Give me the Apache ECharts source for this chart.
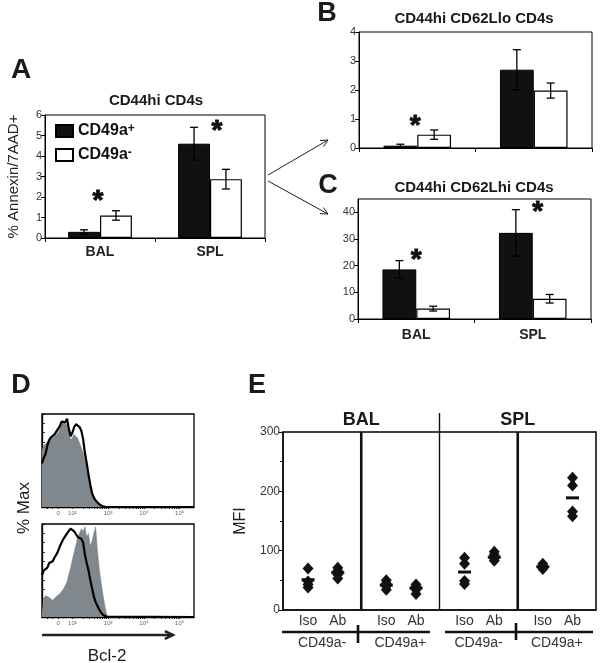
<!DOCTYPE html>
<html><head><meta charset="utf-8">
<script src="https://cdn.jsdelivr.net/npm/echarts@6/dist/echarts.min.js"></script>
<style>html,body{margin:0;padding:0;background:#fff}#c{width:604px;height:663px}</style>
</head><body><div id="c"></div>
<script>
// ---------------- DATA ----------------
const tissues = ['BAL', 'SPL'];
const legendNames = ['CD49a+', 'CD49a-'];
// Panel A: CD44hi CD4s (% Annexin/7AAD+)
const aPos = [0.3, 4.6];
const aPosErr = [0.1, 0.8];
const aNeg = [1.1, 2.87];
const aNegErr = [0.23, 0.48];
const aStars = [[0, 1.8], [1, 5.2]];
// Panel B: CD44hi CD62Llo CD4s
const bPos = [0.08, 2.7];
const bPosErr = [0.05, 0.69];
const bNeg = [0.46, 1.98];
const bNegErr = [0.16, 0.26];
const bStars = [[0, 0.75]];
// Panel C: CD44hi CD62Lhi CD4s
const cPos = [18.6, 32.3];
const cPosErr = [3.3, 8.7];
const cNeg = [3.9, 7.6];
const cNegErr = [0.9, 1.6];
const cStars = [[0, 22], [1, 40]];
// Panel D: Bcl-2 histograms (x in log decades, y in % of max)
const bcl2Bins = [1.15,1.20,1.25,1.30,1.35,1.40,1.45,1.50,1.55,1.60,1.65,1.70,1.75,1.80,1.85,1.90,1.95,2.00,2.05,2.10,
  2.15,2.20,2.25,2.30,2.35,2.40,2.45,2.50,2.55,2.60,2.65,2.70,2.75,2.80,2.85,2.90,2.95,3.00,5.40];
const dTopGray = [61,66,68,70,72,74,75,76,78,80,84,89,92,90,88,80,72,70,78,76,
  74,72,64,58,50,43,31,22,14,9,5,3,1.5,0.8,0.3,0,0,0,0];
const dTopBlack = [47,53,57,66,72,75,77,78,81,84,87,92,94,91,95,84,76,80,86,89,
  87,86,82,73,58,47,35,24,15,10,7,5,3,1.5,0.7,0.3,0,0,0];
const dBotGray = [5,20,23,24,21,19,18,20,22,24,25,27,30,34,38,46,53,62,70,78,
  86,90,95,92,97,86,90,76,82,90,97,72,52,38,25,14,4,0,0];
const dBotBlack = [45,50,49,53,58,56,60,64,67,71,76,80,84,86,90,92,95,96,92,89,
  86,87,84,80,67,58,50,40,31,22,16,12,8,5,2.5,1,0.3,0,0];
const dTickValues = [1.6, 2, 3, 4, 5];
const dTickLabels = ['0', '10\u00b2', '10\u00b3', '10\u2074', '10\u2075'];
// Panel E: MFI
const eTissues = ['BAL', 'SPL'];
const eCells = ['CD49a-', 'CD49a+', 'CD49a-', 'CD49a+'];
const eSlots = ['Iso', 'Ab'];
const eIso = [[70,48,43,38],[50,45,40,34],[88,78,49,44],[78,74,71,69]];
const eAb = [[71,66,60,53],[43,39,34,27],[98,93,87,83],[223,210,166,158]];
const eIsoMean = [51, 42, 64, 73];
const eAbMean = [63, 37, 89, 189];

// ---------------- LAYOUT ----------------
const FONT = '"Liberation Sans", Arial, Helvetica, sans-serif';
const BAR_FRAC = 0.29;
const eSlotX = [0.32, 0.70];
const G = {
  A: {left: 45, top: 115, width: 220, height: 123},
  B: {left: 359, top: 32, width: 233, height: 116},
  C: {left: 358, top: 199, width: 233, height: 120},
  D1: {left: 42, top: 414, width: 152, height: 93},
  D2: {left: 42, top: 524, width: 152, height: 93},
  E: {left: 283, top: 432, width: 313, height: 178}
};

const chart = echarts.init(document.getElementById('c'), null, {renderer: 'canvas', width: 604, height: 663});

function gridOf(g, bw) {
  return Object.assign({show: true, borderColor: '#000', borderWidth: bw || 1, backgroundColor: 'transparent'}, g);
}
function catAxis(gi, showLabels, margin) {
  return {type: 'category', gridIndex: gi, data: tissues,
    axisLine: {show: true, lineStyle: {color: '#000', width: 1}},
    axisTick: {show: true, length: 4, lineStyle: {color: '#000'}},
    axisLabel: {show: showLabels, fontFamily: FONT, fontSize: 14, fontWeight: 'bold', color: '#222', margin: margin || 7},
    splitLine: {show: false}};
}
function valAxis(gi, max, interval, extra) {
  return Object.assign({type: 'value', gridIndex: gi, min: 0, max: max, interval: interval,
    axisLine: {show: true, lineStyle: {color: '#000', width: 1}},
    axisTick: {show: true, length: 4, lineStyle: {color: '#000'}},
    axisLabel: {fontFamily: FONT, fontSize: 11, color: '#333', margin: 3},
    splitLine: {show: false}}, extra || {});
}
function errItem(sign) {
  return function (params, api) {
    const c = api.value(0), v = api.value(1), e = api.value(2);
    const band = api.size([1, 0])[0];
    const x = api.coord([c, v])[0] + sign * band * BAR_FRAC / 2;
    const yt = api.coord([c, v + e])[1], yb = api.coord([c, v - e])[1];
    const cw = 4, st = {stroke: '#000', lineWidth: 1.3};
    return {type: 'group', children: [
      {type: 'line', shape: {x1: x, y1: yt, x2: x, y2: yb}, style: st},
      {type: 'line', shape: {x1: x - cw, y1: yt, x2: x + cw, y2: yt}, style: st},
      {type: 'line', shape: {x1: x - cw, y1: yb, x2: x + cw, y2: yb}, style: st}
    ]};
  };
}
function starItem(dx) {
  return function (params, api) {
    const p = api.coord([api.value(0), api.value(1)]);
    return {type: 'text', x: p[0] + dx[params.dataIndex], y: p[1],
      style: {text: '*', fontFamily: FONT, fontSize: 28, fontWeight: 'bold', fill: '#111',
        stroke: '#111', lineWidth: 0.9, align: 'center', verticalAlign: 'middle'}};
  };
}
function barPanel(gi, pos, posErr, neg, negErr, stars, starDx) {
  return [
    {type: 'bar', name: legendNames[0], xAxisIndex: gi, yAxisIndex: gi, data: pos, barWidth: (BAR_FRAC * 100) + '%', barGap: '0%',
      itemStyle: {color: '#111', borderColor: '#000', borderWidth: 1}, silent: true, animation: false},
    {type: 'bar', name: legendNames[1], xAxisIndex: gi, yAxisIndex: gi, data: neg, barWidth: (BAR_FRAC * 100) + '%', barGap: '0%',
      itemStyle: {color: '#fff', borderColor: '#000', borderWidth: 1.2}, silent: true, animation: false},
    {type: 'custom', xAxisIndex: gi, yAxisIndex: gi, renderItem: errItem(-1), clip: false, z: 5, animation: false,
      data: pos.map((v, i) => [i, v, posErr[i]])},
    {type: 'custom', xAxisIndex: gi, yAxisIndex: gi, renderItem: errItem(1), clip: false, z: 5, animation: false,
      data: neg.map((v, i) => [i, v, negErr[i]])},
    {type: 'custom', xAxisIndex: gi, yAxisIndex: gi, renderItem: starItem(starDx), clip: false, z: 6, animation: false,
      data: stars}
  ];
}
function histSeries(gi, gray, black) {
  return [
    {type: 'line', xAxisIndex: gi, yAxisIndex: gi, data: bcl2Bins.map((u, i) => [u, gray[i]]), symbol: 'none', silent: true, animation: false,
      lineStyle: {color: '#7d8489', width: 0.5}, areaStyle: {color: '#80878d', opacity: 1}},
    {type: 'line', xAxisIndex: gi, yAxisIndex: gi, data: bcl2Bins.map((u, i) => [u, black[i]]), symbol: 'none', silent: true, animation: false,
      lineStyle: {color: '#000', width: 2.2}, z: 3}
  ];
}
// log minor ticks for the Bcl-2 axis
const dMinor = [];
for (let d = 2; d <= 4; d++) for (let k = 2; k <= 9; k++) dMinor.push(d + Math.log10(k));
function histX(gi) {
  return {type: 'value', gridIndex: gi, min: 1.15, max: 5.4,
    axisLine: {show: true, lineStyle: {color: '#000', width: 1.3}},
    axisTick: {show: true, customValues: dTickValues.concat(dMinor, [1.3, 1.45]), length: 2, lineStyle: {color: '#000', width: 0.8}},
    axisLabel: {show: true, customValues: dTickValues, fontFamily: FONT, fontSize: 6, color: '#666', margin: 3,
      formatter: v => dTickLabels[dTickValues.indexOf(v)] || ''},
    splitLine: {show: false}};
}
function histY(gi) {
  return {type: 'value', gridIndex: gi, min: 0, max: 100, interval: 10,
    axisLine: {show: true, lineStyle: {color: '#000', width: 1.3}},
    axisTick: {show: true, inside: true, length: 3, lineStyle: {color: '#000', width: 0.8}},
    axisLabel: {show: false}, splitLine: {show: false}};
}

// E scatter data
const eDiamonds = [], eMeans = [];
eIso.forEach((arr, g) => arr.forEach(v => eDiamonds.push([g + eSlotX[0], v])));
eAb.forEach((arr, g) => arr.forEach(v => eDiamonds.push([g + eSlotX[1], v])));
eIsoMean.forEach((v, g) => eMeans.push([g + eSlotX[0], v]));
eAbMean.forEach((v, g) => eMeans.push([g + eSlotX[1], v]));
const eLabelX = [];
eCells.forEach((c, g) => eSlotX.forEach(s => eLabelX.push(g + s)));

const series = [].concat(
  barPanel(0, aPos, aPosErr, aNeg, aNegErr, aStars, [-2, 7]),
  barPanel(1, bPos, bPosErr, bNeg, bNegErr, bStars, [-2]),
  barPanel(2, cPos, cPosErr, cNeg, cNegErr, cStars, [0, 5]),
  histSeries(3, dTopGray, dTopBlack),
  histSeries(4, dBotGray, dBotBlack),
  [
    {type: 'custom', xAxisIndex: 5, yAxisIndex: 5, clip: false, z: 4, animation: false, data: [[1, 0], [2, 0], [3, 0]],
      renderItem: function (params, api) {
        const x = api.coord([api.value(0), 0])[0];
        const cs = params.coordSys;
        const mid = params.dataIndex === 1;
        return {type: 'line', shape: {x1: x, y1: cs.y - (mid ? 19 : 0), x2: x, y2: cs.y + cs.height},
          style: {stroke: '#111', lineWidth: mid ? 1.4 : 2.6}};
      }},
    {type: 'scatter', xAxisIndex: 5, yAxisIndex: 5, data: eDiamonds, symbol: 'diamond', symbolSize: [11, 12], silent: true, animation: false,
      itemStyle: {color: '#111', opacity: 1}, z: 5},
    {type: 'scatter', xAxisIndex: 5, yAxisIndex: 5, data: eMeans, symbol: 'rect', symbolSize: [13, 3], silent: true, animation: false,
      itemStyle: {color: '#111', opacity: 1}, z: 5}
  ]
);

// graphic helpers
function txt(x, y, text, size, weight, extra, fill) {
  return Object.assign({type: 'text', x: x, y: y, silent: true,
    style: {text: text, fontFamily: FONT, fontSize: size, fontWeight: weight || 'normal', fill: fill || '#1a1a1a', align: 'center', verticalAlign: 'middle'}}, extra || {});
}
function line(x1, y1, x2, y2, w, col) {
  return {type: 'line', silent: true, shape: {x1, y1, x2, y2}, style: {stroke: col || '#222', lineWidth: w || 1}};
}
function arrow(x1, y1, x2, y2, w, head) {
  const a = Math.atan2(y2 - y1, x2 - x1), h = head || 8, sp = 0.45;
  return {type: 'group', silent: true, children: [
    line(x1, y1, x2, y2, w),
    {type: 'polyline', shape: {points: [[x2 - h * Math.cos(a - sp), y2 - h * Math.sin(a - sp)], [x2, y2], [x2 - h * Math.cos(a + sp), y2 - h * Math.sin(a + sp)]]},
      style: {stroke: '#222', lineWidth: w, fill: null}}
  ]};
}
const eColW = G.E.width / 4;
const graphic = [
  txt(21, 70, 'A', 28, 'bold'),
  txt(327, 14, 'B', 27, 'bold'),
  txt(328, 186, 'C', 27, 'bold'),
  txt(21, 386, 'D', 27, 'bold'),
  txt(257, 386, 'E', 27, 'bold'),
  txt(156, 101, 'CD44hi CD4s', 15, 'bold'),
  txt(474, 19, 'CD44hi CD62Llo CD4s', 15, 'bold'),
  txt(474, 188, 'CD44hi CD62Lhi CD4s', 15, 'bold'),
  arrow(268, 175, 328, 140, 1, 8),
  arrow(268, 181, 328, 214, 1, 8),
  txt(24, 508, '% Max', 17, 'normal', {rotation: Math.PI / 2}),
  txt(107, 656, 'Bcl-2', 17, 'normal'),
  arrow(42, 635, 173, 635, 2.5, 9),
  txt(G.E.left + eColW, 420, eTissues[0], 18, 'bold'),
  txt(G.E.left + eColW * 3, 420, eTissues[1], 18, 'bold'),
  line(282, 632, 430, 632, 2.6, '#111'),
  line(445, 632, 593, 632, 2.6, '#111'),
  line(358, 625, 358, 643, 2.6, '#111'),
  line(516, 623, 516, 640, 2.6, '#111')
];
eCells.forEach((c, g) => graphic.push(txt(G.E.left + eColW * (g + 0.5), 643, c, 14, 'normal', null, '#333')));

const option = {
  animation: false,
  backgroundColor: '#fff',
  textStyle: {fontFamily: FONT},
  grid: [gridOf(G.A), gridOf(G.B), gridOf(G.C), gridOf(G.D1, 1.3), gridOf(G.D2, 1.3), gridOf(G.E, 1.5)],
  legend: {
    left: 50, top: 118, orient: 'vertical', itemWidth: 17, itemHeight: 12, itemGap: 8, icon: 'rect', selectedMode: false,
    data: legendNames,
    formatter: n => 'CD49a{sup|' + n.slice(-1) + '}',
    textStyle: {fontFamily: FONT, fontSize: 16, fontWeight: 'bold', color: '#111',
      rich: {sup: {fontFamily: FONT, fontSize: 12, fontWeight: 'bold', color: '#111', verticalAlign: 'top', lineHeight: 12}}}
  },
  xAxis: [
    catAxis(0, true, 7), catAxis(1, false), catAxis(2, true, 9),
    histX(3), histX(4),
    {type: 'value', gridIndex: 5, min: 0, max: 4,
      axisLine: {show: true, lineStyle: {color: '#111', width: 1.5}},
      axisTick: {show: false},
      axisLabel: {show: true, customValues: eLabelX, fontFamily: FONT, fontSize: 14, color: '#333', margin: 4,
        formatter: v => eSlots[(v % 1) < 0.5 ? 0 : 1]},
      splitLine: {show: false}}
  ],
  yAxis: [
    valAxis(0, 6, 1, {name: '% Annexin/7AAD+', nameLocation: 'middle', nameGap: 24,
      nameTextStyle: {fontFamily: FONT, fontSize: 15, color: '#222'}}),
    valAxis(1, 4, 1),
    valAxis(2, 45, 10, {axisLabel: {fontFamily: FONT, fontSize: 11, color: '#333', margin: 3, showMaxLabel: false}}),
    histY(3), histY(4),
    {type: 'value', gridIndex: 5, min: 0, max: 300, interval: 100,
      axisLine: {show: true, lineStyle: {color: '#111', width: 1.5}},
      axisTick: {show: true, length: 4, lineStyle: {color: '#111'}},
      minorTick: {show: true, splitNumber: 2, length: 3, lineStyle: {color: '#111'}},
      axisLabel: {fontFamily: FONT, fontSize: 12, color: '#333', margin: 3},
      splitLine: {show: false}, minorSplitLine: {show: false},
      name: 'MFI', nameLocation: 'middle', nameGap: 32, nameTextStyle: {fontFamily: FONT, fontSize: 16, color: '#222'}}
  ],
  series: series,
  graphic: graphic
};
chart.setOption(option);
</script>
</body></html>
